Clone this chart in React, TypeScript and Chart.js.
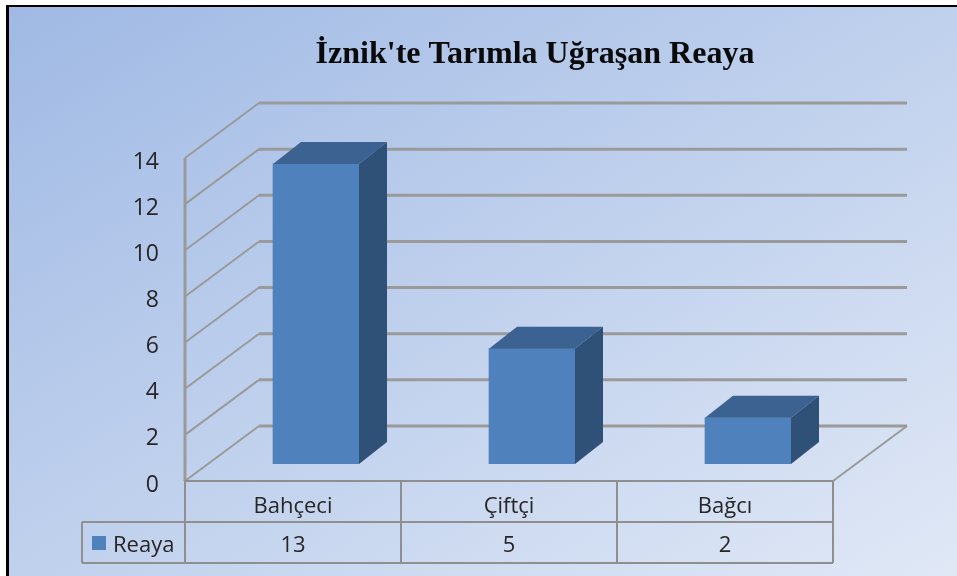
import React, { useEffect, useRef } from "react";
import { Chart, registerables } from "chart.js";

Chart.register(...registerables);

const titleText = "İznik'te Tarımla Uğraşan Reaya";
const categories = ["Bahçeci", "Çiftçi", "Bağcı"];
const seriesName = "Reaya";
const reaya = [13, 5, 2];

const FONT = '"Open Sans", sans-serif';
const TEXT = "#262626";
const GRID = "#9a9a9a";
const WALL_DX = 74;
const WALL_DY = -55;
const BAR_DX = 23;
const BAR_DY = -17;
const DEPTH_DX = 28;
const DEPTH_DY = -22;

const chart3d = {
  id: "chart3d",
  beforeDraw(chart: any) {
    const { ctx, width, height } = chart;
    ctx.save();
    ctx.fillStyle = "#ffffff";
    ctx.fillRect(0, 0, width, height);
    const g = ctx.createLinearGradient(224, -134, 732, 710);
    g.addColorStop(0, "#9fb9e4");
    g.addColorStop(1, "#e0e8f6");
    ctx.fillStyle = g;
    ctx.fillRect(8, 6, width - 8, height - 6);
    ctx.fillStyle = "#000000";
    ctx.fillRect(6, 5, width - 6, 2);
    ctx.fillRect(6, 5, 3, height - 5);
    ctx.restore();
  },
  beforeDatasetsDraw(chart: any) {
    const { ctx, chartArea: a, scales } = chart;
    const y = scales.y;
    ctx.save();
    ctx.strokeStyle = GRID;
    ctx.lineJoin = "miter";
    scales.y.ticks.forEach((t: any) => {
      const py = y.getPixelForValue(t.value);
      ctx.lineWidth = 2;
      ctx.beginPath();
      ctx.moveTo(a.left, py);
      ctx.lineTo(a.left + WALL_DX, py + WALL_DY);
      ctx.stroke();
      ctx.lineWidth = 3;
      ctx.beginPath();
      ctx.moveTo(a.left + WALL_DX, py + WALL_DY);
      ctx.lineTo(a.right + WALL_DX, py + WALL_DY);
      ctx.stroke();
    });
    ctx.lineWidth = 2;
    ctx.beginPath();
    ctx.moveTo(a.right + WALL_DX, a.bottom + WALL_DY);
    ctx.lineTo(a.right, a.bottom);
    ctx.stroke();
    ctx.lineWidth = 3;
    ctx.beginPath();
    ctx.moveTo(a.left, a.top);
    ctx.lineTo(a.left, a.bottom);
    ctx.stroke();
    ctx.restore();
    ctx.save();
    ctx.translate(BAR_DX, BAR_DY);
  },
  afterDatasetsDraw(chart: any) {
    const { ctx } = chart;
    ctx.restore();
    ctx.save();
    chart.getDatasetMeta(0).data.forEach((bar: any) => {
      const l = bar.x - bar.width / 2 + BAR_DX;
      const r = bar.x + bar.width / 2 + BAR_DX;
      const t = bar.y + BAR_DY;
      const b = bar.base + BAR_DY;
      ctx.fillStyle = "#3b6291";
      ctx.beginPath();
      ctx.moveTo(l, t);
      ctx.lineTo(l + DEPTH_DX, t + DEPTH_DY);
      ctx.lineTo(r + DEPTH_DX, t + DEPTH_DY);
      ctx.lineTo(r, t);
      ctx.closePath();
      ctx.fill();
      ctx.fillStyle = "#2f5077";
      ctx.beginPath();
      ctx.moveTo(r, t);
      ctx.lineTo(r + DEPTH_DX, t + DEPTH_DY);
      ctx.lineTo(r + DEPTH_DX, b + DEPTH_DY);
      ctx.lineTo(r, b);
      ctx.closePath();
      ctx.fill();
    });
    ctx.restore();
  },
  afterDraw(chart: any) {
    const { ctx, chartArea: a, scales } = chart;
    const rowTop = a.bottom;
    const rowMid = 522;
    const rowBottom = 563;
    const legendLeft = 82;
    const n = categories.length;
    const step = (a.right - a.left) / n;
    ctx.save();
    ctx.strokeStyle = "#8f8f8f";
    ctx.lineWidth = 2;
    ctx.beginPath();
    ctx.moveTo(a.left, rowTop);
    ctx.lineTo(a.right, rowTop);
    ctx.moveTo(legendLeft, rowMid);
    ctx.lineTo(a.right, rowMid);
    ctx.moveTo(legendLeft, rowBottom);
    ctx.lineTo(a.right, rowBottom);
    ctx.moveTo(legendLeft, rowMid);
    ctx.lineTo(legendLeft, rowBottom);
    for (let i = 0; i <= n; i++) {
      const x = a.left + step * i;
      ctx.moveTo(x, rowTop);
      ctx.lineTo(x, rowBottom);
    }
    ctx.stroke();

    ctx.fillStyle = TEXT;
    ctx.font = `22px ${FONT}`;
    ctx.textBaseline = "middle";
    ctx.textAlign = "center";
    reaya.forEach((v, i) => {
      ctx.fillText(String(v), scales.x.getPixelForValue(i), 546);
    });
    ctx.textAlign = "left";
    ctx.fillText(seriesName, 113, 546);
    ctx.fillStyle = "#4f81bd";
    ctx.fillRect(92, 536, 14, 14);

    ctx.fillStyle = "#0a0a0a";
    ctx.font = `bold 32px "Liberation Serif", serif`;
    ctx.textAlign = "center";
    ctx.textBaseline = "alphabetic";
    ctx.fillText(titleText, 535, 63);
    ctx.restore();
  },
};

export default function App() {
  const ref = useRef<HTMLCanvasElement>(null);
  useEffect(() => {
    const chart = new Chart(ref.current as HTMLCanvasElement, {
      type: "bar",
      data: {
        labels: categories,
        datasets: [
          {
            label: seriesName,
            data: reaya,
            backgroundColor: "#4f81bd",
            borderWidth: 0,
            barThickness: 86,
          },
        ],
      },
      options: {
        responsive: false,
        animation: false,
        layout: { padding: { left: 60, right: 124, top: 158, bottom: 54 } },
        plugins: { legend: { display: false }, title: { display: false }, tooltip: { enabled: false } },
        scales: {
          x: {
            grid: { display: false },
            border: { display: false },
            ticks: { color: TEXT, padding: 5, font: { family: FONT, size: 22 }, maxRotation: 0 },
            afterFit: (s: any) => {
              s.height = 41;
            },
          },
          y: {
            min: 0,
            max: 14,
            grid: { display: false, drawTicks: false },
            border: { display: false },
            ticks: { stepSize: 2, color: TEXT, padding: 26, labelOffset: 4, font: { family: FONT, size: 23 } },
            afterFit: (s: any) => {
              s.width = 125;
            },
          },
        },
      },
      plugins: [chart3d],
    } as any);
    return () => chart.destroy();
  }, []);
  return (
    <canvas
      ref={ref}
      width={957}
      height={576}
      style={{ position: "absolute", left: 0, top: 0, display: "block" }}
    />
  );
}
